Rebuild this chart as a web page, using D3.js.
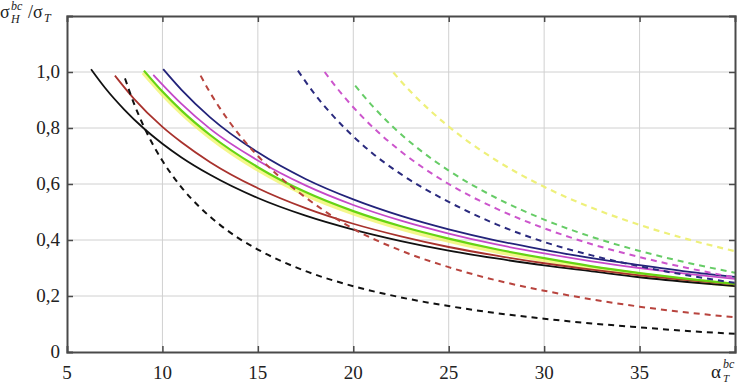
<!DOCTYPE html>
<html><head><meta charset="utf-8">
<script src="https://cdn.jsdelivr.net/npm/d3@7"></script>
<style>body{margin:0;background:#fff}svg{display:block}</style>
</head><body>
<svg id="c" width="749" height="385"></svg>
<script>
// ---- data ----
const xTicks = [5, 10, 15, 20, 25, 30, 35];
const yTicks = [0, 0.2, 0.4, 0.6, 0.8, 1.0];
const yTickLabels = ["0", "0,2", "0,4", "0,6", "0,8", "1,0"];

const blackSolidX = [6.26, 7, 8, 9, 10, 11, 12.5, 15, 17.5, 20, 22.5, 25, 27.5, 30, 32.5, 35, 37.5, 40];
const blackSolidY = [1.01, 0.943, 0.866, 0.80, 0.744, 0.695, 0.633, 0.55, 0.487, 0.437, 0.396, 0.362, 0.334, 0.309, 0.288, 0.267, 0.25, 0.235];
const redSolidX = [7.51, 8.5, 10, 11, 12.5, 15, 17.5, 20, 22.5, 25, 27.5, 30, 32.5, 35, 37.5, 40];
const redSolidY = [0.987, 0.905, 0.804, 0.749, 0.678, 0.585, 0.514, 0.458, 0.413, 0.375, 0.344, 0.317, 0.294, 0.274, 0.257, 0.241];
const yellowSolidX = [9.0, 10, 11, 12.5, 15, 17.5, 20, 22.5, 25, 27.5, 30, 32.5, 35, 37.5, 40];
const yellowSolidY = [0.998, 0.922, 0.854, 0.767, 0.652, 0.563, 0.496, 0.442, 0.398, 0.36, 0.329, 0.3, 0.277, 0.256, 0.239];
const greenSolidX = [9.03, 10, 11, 12.5, 15, 17.5, 20, 22.5, 25, 27.5, 30, 32.5, 35, 37.5, 40];
const greenSolidY = [1.005, 0.93, 0.862, 0.775, 0.66, 0.571, 0.503, 0.449, 0.405, 0.367, 0.335, 0.306, 0.282, 0.261, 0.243];
const magentaSolidX = [9.52, 10, 11, 12.5, 15, 17.5, 20, 22.5, 25, 27.5, 30, 32.5, 35, 37.5, 40];
const magentaSolidY = [0.99, 0.955, 0.886, 0.797, 0.684, 0.595, 0.525, 0.469, 0.423, 0.384, 0.352, 0.324, 0.30, 0.279, 0.261];
const blueSolidX = [10.04, 11, 12.5, 15, 17.5, 20, 22.5, 25, 27.5, 30, 32.5, 35, 37.5, 40];
const blueSolidY = [1.01, 0.936, 0.838, 0.713, 0.618, 0.545, 0.486, 0.438, 0.398, 0.365, 0.335, 0.31, 0.287, 0.268];

const blackDashX = [8.04, 8.5, 9, 9.5, 10, 11, 12, 13, 14, 15, 17.5, 20, 22.5, 25, 27.5, 30, 32.5, 35, 37.5, 40];
const blackDashY = [0.977, 0.889, 0.809, 0.741, 0.683, 0.588, 0.514, 0.455, 0.406, 0.366, 0.289, 0.235, 0.195, 0.164, 0.139, 0.119, 0.102, 0.088, 0.075, 0.065];
const redDashX = [12.0, 12.5, 13, 14, 15, 16, 17.5, 20, 22.5, 25, 27.5, 30, 32.5, 35, 37.5, 40];
const redDashY = [0.987, 0.926, 0.872, 0.778, 0.70, 0.634, 0.552, 0.44, 0.362, 0.303, 0.256, 0.219, 0.188, 0.162, 0.141, 0.124];
const blueDashX = [17.1, 18, 19, 20, 21, 22.5, 25, 27.5, 30, 32.5, 35, 37.5, 40];
const blueDashY = [1.005, 0.919, 0.839, 0.77, 0.71, 0.635, 0.536, 0.456, 0.393, 0.345, 0.306, 0.274, 0.247];
const magentaDashX = [18.5, 19.5, 20.5, 21.5, 22.5, 25, 27.5, 30, 32.5, 35, 37.5, 40];
const magentaDashY = [1.0, 0.913, 0.838, 0.773, 0.716, 0.60, 0.512, 0.442, 0.385, 0.339, 0.30, 0.266];
const greenDashX = [20.1, 21, 22, 23.5, 25, 27.5, 30, 32.5, 35, 37.5, 40];
const greenDashY = [0.951, 0.879, 0.809, 0.721, 0.648, 0.55, 0.473, 0.411, 0.361, 0.319, 0.283];
const yellowDashX = [22.1, 23, 24, 25, 27.5, 30, 32.5, 35, 37.5, 40];
const yellowDashY = [0.998, 0.93, 0.864, 0.805, 0.684, 0.59, 0.515, 0.454, 0.403, 0.36];

const series = [
  {x: yellowSolidX, y: yellowSolidY, color: "#f0f35a", w: 4.5, dash: null, op: 0.7},
  {x: blackSolidX, y: blackSolidY, color: "#111111", w: 1.8, dash: null},
  {x: redSolidX, y: redSolidY, color: "#a8322d", w: 1.8, dash: null},
  {x: greenSolidX, y: greenSolidY, color: "#66d414", w: 2.2, dash: null},
  {x: magentaSolidX, y: magentaSolidY, color: "#c548c8", w: 1.8, dash: null},
  {x: blueSolidX, y: blueSolidY, color: "#23237a", w: 1.8, dash: null},
  {x: blackDashX, y: blackDashY, color: "#111111", w: 2, dash: "6,5"},
  {x: redDashX, y: redDashY, color: "#b8443e", w: 2, dash: "6,5"},
  {x: blueDashX, y: blueDashY, color: "#2a2a7e", w: 2, dash: "6,5"},
  {x: magentaDashX, y: magentaDashY, color: "#cc55cc", w: 2, dash: "6,5"},
  {x: greenDashX, y: greenDashY, color: "#66cc66", w: 2, dash: "6,5"},
  {x: yellowDashX, y: yellowDashY, color: "#eef07a", w: 2.2, dash: "6,5"}
];

// ---- chart ----
const svg = d3.select("#c");
const L = 67, R = 735, T = 16, B = 352;
const x = d3.scaleLinear().domain([5, 40]).range([L, R]);
const y = d3.scaleLinear().domain([0, 1.2]).range([B, T]);
const font = "'Liberation Serif', 'Times New Roman', serif";

// grid
svg.append("g").selectAll("line").data(xTicks.slice(1)).join("line")
  .attr("x1", d => x(d)).attr("x2", d => x(d)).attr("y1", T).attr("y2", B)
  .attr("stroke", "#d0d0d0").attr("stroke-width", 1);
svg.append("g").selectAll("line").data(yTicks.slice(1)).join("line")
  .attr("x1", L).attr("x2", R).attr("y1", d => y(d)).attr("y2", d => y(d))
  .attr("stroke", "#d0d0d0").attr("stroke-width", 1);

// curves
const line = d3.line().curve(d3.curveMonotoneX).x(d => x(d[0])).y(d => y(d[1]));
svg.append("g").selectAll("path").data(series).join("path")
  .attr("d", s => line(s.x.map((v, i) => [v, s.y[i]])))
  .attr("fill", "none")
  .attr("stroke", s => s.color)
  .attr("stroke-width", s => s.w)
  .attr("stroke-dasharray", s => s.dash)
  .attr("stroke-opacity", s => s.op || 1);

// axes (inward ticks)
const axB = d3.axisBottom(x).tickValues(xTicks.slice(1)).tickSize(-6).tickFormat("");
const axL = d3.axisLeft(y).tickValues(yTicks.slice(1)).tickSize(-6).tickFormat("");
const axR = d3.axisRight(y).tickValues(yTicks.slice(1)).tickSize(-6).tickFormat("");
const axT = d3.axisTop(x).tickValues(xTicks.slice(1)).tickSize(-6).tickFormat("");
[[axB, `translate(0,${B})`], [axL, `translate(${L},0)`], [axR, `translate(${R},0)`], [axT, `translate(0,${T})`]]
  .forEach(([a, t]) => {
    const g = svg.append("g").attr("transform", t).call(a);
    g.select(".domain").attr("stroke", "#4a4a4a").attr("stroke-width", 2);
    g.selectAll(".tick line").attr("stroke", "#4a4a4a").attr("stroke-width", 1.5);
  });

// tick labels
svg.append("g").selectAll("text").data(xTicks).join("text")
  .attr("x", d => x(d)).attr("y", 379).attr("text-anchor", "middle")
  .attr("font-family", font).attr("font-size", 19).attr("fill", "#222").text(d => d);
svg.append("g").selectAll("text").data(yTicks).join("text")
  .attr("x", 60).attr("y", d => y(d) + 6).attr("text-anchor", "end")
  .attr("font-family", font).attr("font-size", 19).attr("fill", "#222")
  .text((d, i) => yTickLabels[i]);

// axis titles
const yt = svg.append("g").attr("font-family", font).attr("fill", "#222");
yt.append("text").attr("x", 0).attr("y", 18).attr("font-size", 18).text("σ");
yt.append("text").attr("x", 11).attr("y", 10).attr("font-size", 12).attr("font-style", "italic").text("bc");
yt.append("text").attr("x", 11).attr("y", 23).attr("font-size", 12).attr("font-style", "italic").text("H");
yt.append("text").attr("x", 28).attr("y", 18).attr("font-size", 18).text("/σ");
yt.append("text").attr("x", 44).attr("y", 22).attr("font-size", 12).attr("font-style", "italic").text("T");

const xt = svg.append("g").attr("font-family", font).attr("fill", "#222");
xt.append("text").attr("x", 711).attr("y", 378).attr("font-size", 19).text("α");
xt.append("text").attr("x", 723).attr("y", 368).attr("font-size", 12).attr("font-style", "italic").text("bc");
xt.append("text").attr("x", 723).attr("y", 382).attr("font-size", 11).attr("font-style", "italic").text("T");
</script>
</body></html>
